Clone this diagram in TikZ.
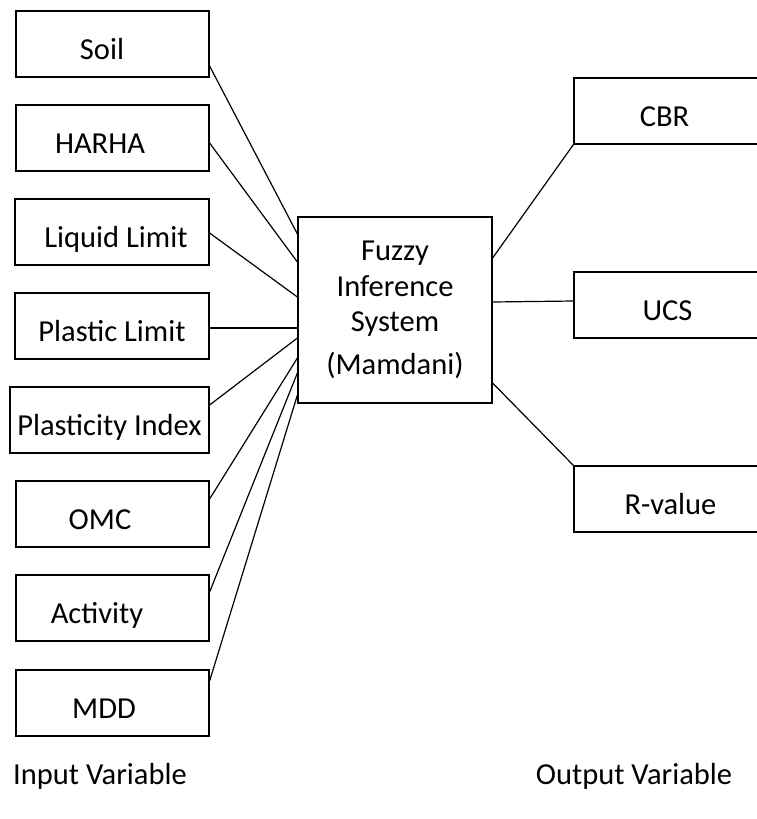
\documentclass[tikz,border=0pt]{standalone}
\usepackage{fontspec}
\setmainfont{Carlito}
\begin{document}
\begin{tikzpicture}[x=1pt,y=-1pt,
  box/.style={draw, line width=1.2pt, minimum width=193pt, minimum height=66pt, inner sep=0pt, font=\fontsize{30.5}{36}\selectfont},
  io/.style={box, text height=30pt, text depth=0pt},
  conn/.style={line width=1.2pt},
  lbl/.style={font=\fontsize{30.5}{36}\selectfont, inner sep=0pt}]
\useasboundingbox (0,0) rectangle (757,819);
\clip (0,0) rectangle (757,819);
% inputs
\node[io] (soil) at (112.5,44) {Soil\hspace*{21pt}};
\node[io] (harha) at (112.5,138) {HARHA\hspace*{25pt}};
\node[io, minimum width=194pt] (ll) at (112,232) {\hspace*{8pt}Liquid Limit};
\node[io, minimum width=194pt] (pl) at (112,326) {Plastic Limit};
\node[io, minimum width=199pt] (pi) at (109.5,420) {Plasticity Index};
\node[io] (omc) at (112.5,514) {OMC\hspace*{25pt}};
\node[io] (act) at (112.5,608) {Activity\hspace*{31pt}};
\node[io] (mdd) at (112.5,703) {MDD\hspace*{17pt}};
% FIS
\node[box, minimum width=194pt, minimum height=186pt, align=center, font=\fontsize{30.5}{35.5}\selectfont] (fis) at (395,310)
  {Fuzzy\\Inference\\System\\[7pt](Mamdani)};
% outputs
\node[io] (cbr) at (670.5,111) {CBR\hspace*{12pt}};
\node[io] (ucs) at (670.5,305) {UCS\hspace*{6pt}};
\node[io] (rv) at (670.5,499) {R-value};
% connectors
\draw[conn] ([yshift=-22pt]soil.east) -- ([yshift=76pt]fis.west);
\draw[conn] ([yshift=-5pt]harha.east) -- ([yshift=48pt]fis.west);
\draw[conn] ([yshift=-1pt]ll.east) -- ([yshift=13pt]fis.west);
\draw[conn] ([yshift=-2pt]pl.east) -- ([yshift=-18pt]fis.west);
\draw[conn] ([yshift=15pt]pi.east) -- ([yshift=-28pt]fis.west);
\draw[conn] ([yshift=15pt]omc.east) -- ([yshift=-48pt]fis.west);
\draw[conn] ([yshift=16pt]act.east) -- ([yshift=-63pt]fis.west);
\draw[conn] ([yshift=22pt]mdd.east) -- ([yshift=-85pt]fis.west);
\draw[conn] ([yshift=52pt]fis.east) -- (cbr.south west);
\draw[conn] ([yshift=8pt]fis.east) -- ([yshift=4pt]ucs.west);
\draw[conn] ([yshift=-73pt]fis.east) -- (rv.north west);
% captions
\node[lbl] (inlbl) at (100,776) {Input Variable};
\node[lbl] (outlbl) at (634,776) {Output Variable};
\end{tikzpicture}
\end{document}
